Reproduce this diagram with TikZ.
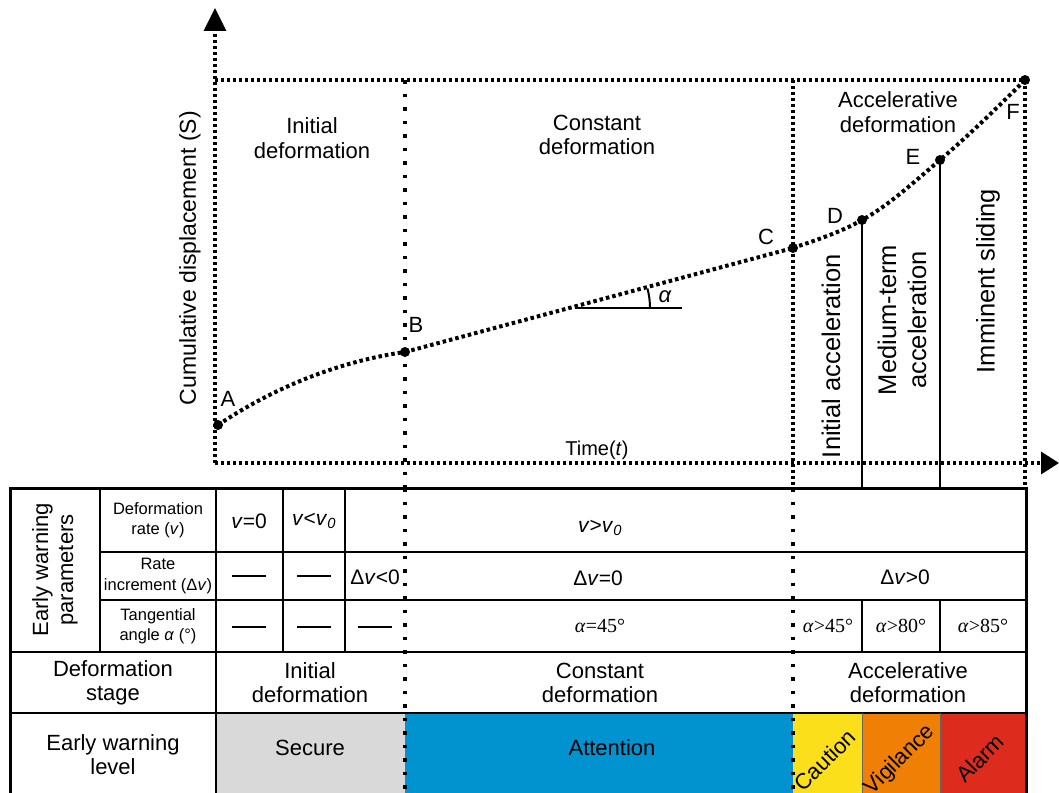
\documentclass[tikz,border=0pt]{standalone}
\usepackage{fontspec}
\setmainfont{Liberation Sans}
\newfontfamily\serfont{Liberation Serif}
\usetikzlibrary{arrows.meta}
\definecolor{cgray}{HTML}{D9D9D9}
\definecolor{cblue}{HTML}{0093CF}
\definecolor{cyellow}{HTML}{FBDF1A}
\definecolor{corange}{HTML}{F08005}
\definecolor{cred}{HTML}{DD2C1D}
\begin{document}
\begin{tikzpicture}[x=1pt,y=-1pt,
  densedot/.style={line width=3.5pt, dash pattern=on 3pt off 3pt},
  sparsedot/.style={line width=3.5pt, dash pattern=on 3.5pt off 10pt},
  curvedot/.style={line width=4pt, dash pattern=on 3.5pt off 3pt},
  gridline/.style={line width=2pt},
  outerline/.style={line width=3pt},
  thinline/.style={line width=0.8pt, black!60},
  ptdot/.style={circle, fill=black, inner sep=0pt, minimum size=10pt},
  ptlab/.style={font=\fontsize{22}{24}\selectfont},
  toplab/.style={font=\fontsize{22}{24.5}\selectfont, align=center},
  rotlab/.style={font=\fontsize{25.5}{30}\selectfont, align=center, rotate=90},
  biglab/.style={font=\fontsize{22}{24}\selectfont, align=center},
  smalllab/.style={font=\fontsize{16.5}{20.5}\selectfont, align=center},
  vallab/.style={font=\fontsize{21}{24}\selectfont},
  anglab/.style={font=\serfont\fontsize{20}{24}\selectfont},
  diaglab/.style={font=\fontsize{22}{24}\selectfont, rotate=45, inner sep=0pt}]
\useasboundingbox (0,0) rectangle (1059,792);

% ---- coloured cells ----
\fill[cgray] (216,713) rectangle (405,800);
\fill[cblue] (405,713) rectangle (793,800);
\fill[cyellow] (793,713) rectangle (862,800);
\fill[corange] (862,713) rectangle (940,800);
\fill[cred] (940,713) rectangle (1026,800);

% ---- axes ----
\coordinate (O) at (215,463);
\coordinate (ytip) at (215,8);
\coordinate (xtip) at (1059,463);
\coordinate (TL) at (215,80);
\draw[densedot, -{Triangle[length=23pt,width=22pt]}] (O) -- (ytip);
\draw[densedot, -{Triangle[length=18pt,width=22pt]}] (O) -- (xtip);

% ---- curve points ----
\coordinate (A) at (218,425);
\coordinate (B) at (405,352);
\coordinate (C) at (793,248);
\coordinate (D) at (862,220);
\coordinate (E) at (940,160);
\coordinate (F) at (1025,80);

% ---- frame lines in the graph ----
\draw[densedot] (TL) -- (F);
\coordinate (Btop) at (405,80);
\coordinate (Ctop) at (793,80);
\coordinate (Bbot) at (405,488);
\coordinate (Cbot) at (793,488);
\coordinate (Fbot) at (1025,488);
\draw[sparsedot] (Btop) -- (Bbot);
\draw[densedot] (Ctop) -- (Cbot);
\draw[densedot] (F) -- (Fbot);

% ---- solid lines from D and E ----
\coordinate (Dbot) at (862,652);
\coordinate (Ebot) at (940,652);
\draw[gridline] (D) -- (862,488);
\draw[gridline] (E) -- (940,488);

% ---- curve ----
\draw[curvedot] (A) .. controls (270,390) and (335,362) .. (B);
\draw[curvedot] (B) -- (C);
\draw[curvedot] (C) .. controls (816,240) and (839,233) .. (D)
  .. controls (888,206) and (914,182) .. (E)
  .. controls (968,136) and (997,108) .. (F);

\foreach \p in {A,B,C,D,E,F} \node[ptdot] (dot\p) at (\p) {};

\node[ptlab] (lA) at (228,399) {A};
\node[ptlab] (lB) at (416,325) {B};
\node[ptlab] (lC) at (766,237) {C};
\node[ptlab] (lD) at (835,216) {D};
\node[ptlab] (lE) at (913,157) {E};
\node[ptlab] (lF) at (1013,112) {F};

% ---- angle marker ----
\coordinate (ang0) at (575,308);
\coordinate (ang1) at (682,308);
\draw[line width=2pt] (ang0) -- (ang1);
\draw[line width=2pt] (650,308) arc[start angle=0, end angle=-15, radius=75];
\node[font=\fontsize{22}{24}\selectfont\itshape] (alab) at (665,297) {α};

% ---- graph labels ----
\node[toplab] (initT) at (312,138) {Initial\\deformation};
\node[toplab] (constT) at (597,135) {Constant\\deformation};
\node[toplab] (accT) at (898,112) {Accelerative\\deformation};
\node[rotlab, font=\fontsize{23}{26}\selectfont] (ylab) at (190,258) {Cumulative displacement (S)};
\node[font=\fontsize{20}{24}\selectfont] (xlab) at (597,450) {Time(\textit{t})};
\node[rotlab] (iacc) at (831,356) {Initial acceleration};
\node[rotlab] (macc) at (902,320) {Medium-term\\acceleration};
\node[rotlab] (islide) at (988,281) {Imminent sliding};

% ---- table grid ----
\draw[outerline] (10,800) -- (10,488) -- (1026,488) -- (1026,800);
\draw[gridline] (100,552) -- (1026,552);
\draw[gridline] (100,600) -- (1026,600);
\draw[gridline] (10,652) -- (1026,652);
\draw[gridline] (10,713) -- (1026,713);
\draw[gridline] (100,488) -- (100,652);
\draw[gridline] (216,488) -- (216,800);
\draw[gridline] (283,488) -- (283,652);
\draw[gridline] (345,488) -- (345,652);
\draw[gridline] (862,600) -- (Dbot);
\draw[gridline] (940,600) -- (Ebot);
\draw[thinline] (862,713) -- (862,800);
\draw[thinline] (940,713) -- (940,800);
\draw[sparsedot] (405,488) -- (405,800);
\draw[sparsedot] (793,488) -- (793,800);

% ---- table text ----
\node[biglab, rotate=90, font=\fontsize{22}{25}\selectfont] (ewp) at (55,570) {Early warning\\parameters};
\node[smalllab] (drate) at (158,520) {Deformation\\rate (\textit{v})};
\node[smalllab] (rinc) at (158,576) {Rate\\increment (Δ\textit{v})};
\node[smalllab] (tang) at (158,626) {Tangential\\angle \textit{α} (°)};

\node[vallab] (v0) at (249,521) {\textit{v}=0};
\node[vallab] (vlt) at (314,521) {\textit{v}<\textit{v}\textsubscript{\textit{0}}};
\node[vallab] (vgt) at (600,528) {\textit{v}>\textit{v}\textsubscript{\textit{0}}};

\node (d21) at (249,576) {\rule{34pt}{2pt}};
\node (d22) at (314,576) {\rule{34pt}{2pt}};
\node[vallab] (dvlt) at (375,577) {Δ\textit{v}<0};
\node[vallab] (dveq) at (598,578) {Δ\textit{v}=0};
\node[vallab] (dvgt) at (905,577) {Δ\textit{v}>0};

\node (d31) at (249,627) {\rule{34pt}{2pt}};
\node (d32) at (314,627) {\rule{34pt}{2pt}};
\node (d33) at (375,627) {\rule{34pt}{2pt}};
\node[anglab] (a45) at (600,626) {\textit{α}=45°};
\node[anglab] (ag45) at (828,626) {\textit{α}>45°};
\node[anglab] (ag80) at (901,626) {\textit{α}>80°};
\node[anglab] (ag85) at (983,626) {\textit{α}>85°};

\node[biglab] (dstage) at (113,683) {Deformation\\stage};
\node[biglab] (sinit) at (310,683) {Initial\\deformation};
\node[biglab] (sconst) at (600,683) {Constant\\deformation};
\node[biglab] (sacc) at (908,683) {Accelerative\\deformation};

\node[biglab] (ewl) at (113,755) {Early warning\\level};
\node[biglab] (secure) at (310,748) {Secure};
\node[biglab] (attn) at (612,748) {Attention};
\node[diaglab] (caut) at (825,760) {Caution};
\node[diaglab] (vigil) at (900,760) {Vigilance};
\node[diaglab] (alarm) at (980,758) {Alarm};
\end{tikzpicture}
\end{document}
